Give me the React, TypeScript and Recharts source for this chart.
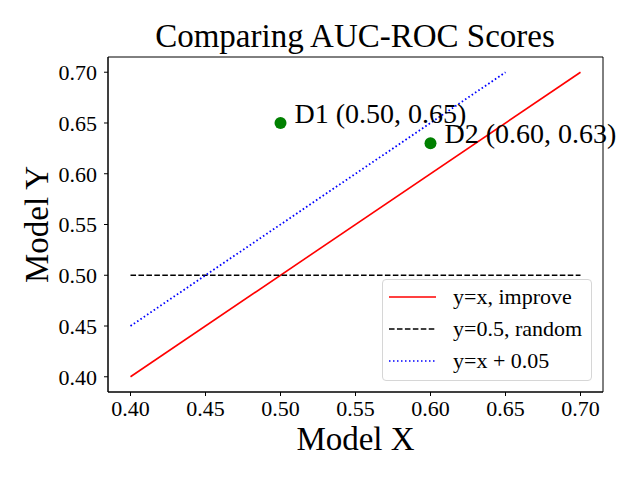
import {
  ComposedChart,
  Line,
  Scatter,
  XAxis,
  YAxis,
  Legend,
  Label,
  ReferenceArea,
} from "recharts";

// reference lines
const improveX = [0.4, 0.7];
const improveY = [0.4, 0.7];
const randomX = [0.4, 0.7];
const randomY = [0.5, 0.5];
const offsetX = [0.4, 0.65];
const offsetY = [0.45, 0.7];

// model points
const pointNames = ["D1", "D2"];
const pointX = [0.5, 0.6];
const pointY = [0.65, 0.63];

const ticks = [0.4, 0.45, 0.5, 0.55, 0.6, 0.65, 0.7];
const domain: [number, number] = [0.385, 0.715];

const toRows = (xs: number[], ys: number[]) => xs.map((x, i) => ({ x, y: ys[i] }));

const improveData = toRows(improveX, improveY);
const randomData = toRows(randomX, randomY);
const offsetData = toRows(offsetX, offsetY);
const pointData = pointNames.map((name, i) => ({ name, x: pointX[i], y: pointY[i] }));

const FONT = "'Liberation Serif', 'Times New Roman', serif";

const legendItems = [
  { label: "y=x, improve", color: "#ff0000", dash: undefined },
  { label: "y=0.5, random", color: "#000000", dash: "5.55 2.4" },
  { label: "y=x + 0.05", color: "#0000ff", dash: "1.5 2.5" },
];

function LegendBox() {
  return (
    <div
      style={{
        width: 208,
        height: 99,
        border: "1px solid #d6d6d6",
        borderRadius: 4,
        background: "rgba(255,255,255,0.8)",
        fontFamily: FONT,
        fontSize: 22,
        paddingTop: 1,
      }}
    >
      {legendItems.map((it) => (
        <div key={it.label} style={{ display: "flex", alignItems: "center", height: 32 }}>
          <svg width={47} height={20} style={{ marginLeft: 6 }}>
            <line x1={0} y1={10} x2={47} y2={10} stroke={it.color} strokeWidth={1.6} strokeDasharray={it.dash} />
          </svg>
          <span style={{ marginLeft: 17, lineHeight: "22px" }}>{it.label}</span>
        </div>
      ))}
    </div>
  );
}

function PointShape(props: any) {
  const { cx, cy, payload } = props;
  return (
    <g>
      <circle cx={cx} cy={cy} r={6} fill="#008000" />
      <text x={cx + 14} y={cy} fontFamily={FONT} fontSize={28} fill="#000">
        {`${payload.name} (${payload.x.toFixed(2)}, ${payload.y.toFixed(2)})`}
      </text>
    </g>
  );
}

export default function App() {
  return (
    <div style={{ position: "absolute", left: 0, top: 0, width: 640, height: 480, background: "#fff" }}>
      <ComposedChart
        width={640}
        height={480}
        margin={{ top: 57, right: 37, bottom: 0, left: 0 }}
        style={{ position: "absolute", left: 0, top: 0, overflow: "visible" }}
      >
        <XAxis
          type="number"
          dataKey="x"
          domain={domain}
          ticks={ticks}
          tickFormatter={(v: number) => v.toFixed(2)}
          height={88}
          tickSize={4}
          tickMargin={4}
          stroke="#000"
          tick={{ fill: "#000", fontFamily: FONT, fontSize: 22 }}
        >
          <Label
            content={(p: any) => (
              <text x={p.viewBox.x + p.viewBox.width / 2} y={450} textAnchor="middle" fontFamily={FONT} fontSize={33}>
                Model X
              </text>
            )}
          />
        </XAxis>
        <YAxis
          type="number"
          domain={domain}
          ticks={ticks}
          tickFormatter={(v: number) => v.toFixed(2)}
          width={108}
          tickSize={4}
          tickMargin={7}
          stroke="#000"
          tick={{ fill: "#000", fontFamily: FONT, fontSize: 22 }}
        >
          <Label
            content={(p: any) => {
              const cy = p.viewBox.y + p.viewBox.height / 2;
              return (
                <text x={48} y={cy} transform={`rotate(-90 48 ${cy})`} textAnchor="middle" fontFamily={FONT} fontSize={33}>
                  Model Y
                </text>
              );
            }}
          />
        </YAxis>
        <ReferenceArea
          x1={domain[0]}
          x2={domain[1]}
          y1={domain[0]}
          y2={domain[1]}
          fill="none"
          stroke="#000"
          strokeWidth={1}
          fillOpacity={0}
          strokeOpacity={1}
          ifOverflow="visible"
        />
        <Line
          data={improveData}
          dataKey="y"
          stroke="#ff0000"
          strokeWidth={1.6}
          dot={false}
          isAnimationActive={false}
        />
        <Line
          data={randomData}
          dataKey="y"
          stroke="#000000"
          strokeWidth={1.6}
          strokeDasharray="5.55 2.4"
          dot={false}
          isAnimationActive={false}
        />
        <Line
          data={offsetData}
          dataKey="y"
          stroke="#0000ff"
          strokeWidth={1.8}
          strokeDasharray="1.6 2.4"
          dot={false}
          isAnimationActive={false}
        />
        <Scatter data={pointData} dataKey="y" shape={PointShape} isAnimationActive={false} />
        <Legend
          layout="vertical"
          align="center"
          verticalAlign="middle"
          content={() => <LegendBox />}
          wrapperStyle={{ position: "absolute", left: 382, top: 279, width: 210, height: 101 }}
        />
        <text x={355} y={47} textAnchor="middle" fontFamily={FONT} fontSize={33}>
          Comparing AUC-ROC Scores
        </text>
      </ComposedChart>
    </div>
  );
}
